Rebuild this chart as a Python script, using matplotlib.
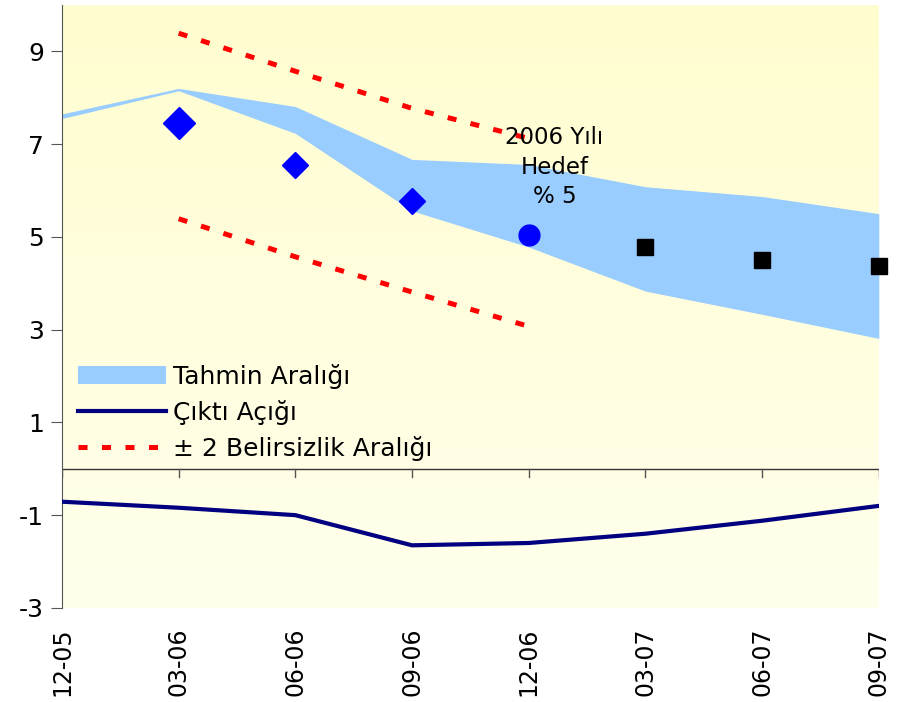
import numpy as np
import matplotlib.pyplot as plt
from matplotlib.colors import LinearSegmentedColormap
from matplotlib.patches import Patch
from matplotlib.lines import Line2D

## Data
quarters = ['12-05', '03-06', '06-06', '09-06', '12-06', '03-07', '06-07', '09-07']
band_upper = [7.65, 8.20, 7.81, 6.67, 6.56, 6.08, 5.87, 5.50]
band_lower = [7.55, 8.15, 7.23, 5.56, 4.78, 3.83, 3.33, 2.81]
realized = [np.nan, 7.45, 6.54, 5.78]          # diamonds, 03-06 .. 09-06
target_2006 = 5.04                              # circle at 12-06
target_2007 = [4.78, 4.50, 4.37]                # squares, 03-07 .. 09-07
unc_upper = [9.39, 8.57, 7.77, 7.12]            # 03-06 .. 12-06
unc_lower = [5.39, 4.57, 3.81, 3.07]
output_gap = [-0.71, -0.84, -1.00, -1.65, -1.60, -1.40, -1.12, -0.80]

x = np.arange(len(quarters))

## Plot
plt.rcParams['font.family'] = ['DejaVu Sans']
plt.rcParams['axes.unicode_minus'] = False
fig = plt.figure(figsize=(9.06, 7.02), dpi=100)
ax = fig.add_axes([0.0684, 0.134, 0.9016, 0.859])
ax.set_xlim(0, 7)
ax.set_ylim(-3, 10)

# background gradient
cmap = LinearSegmentedColormap.from_list('bg', ['#FFFFEC', '#FFFDCF'])
ax.imshow(np.linspace(0, 1, 256).reshape(-1, 1), extent=[0, 7, -3, 10], origin='lower',
          aspect='auto', cmap=cmap, zorder=0)

dash = (0, (1.8, 2.9))
ax.fill_between(x, band_lower, band_upper, color='#99CCFF', lw=0, zorder=1)
ax.plot(x[1:5], unc_upper, color='#FF0000', lw=3.6, ls=dash, zorder=2)
ax.plot(x[1:5], unc_lower, color='#FF0000', lw=3.6, ls=dash, zorder=2)
ax.plot(x[1], realized[1], 'D', color='#0000FF', ms=16, zorder=3)
ax.plot(x[2:4], realized[2:4], 'D', color='#0000FF', ms=13, zorder=3)
ax.plot(x[4], target_2006, 'o', color='#0000FF', ms=15, zorder=3)
ax.plot(x[5:8], target_2007, 's', color='black', ms=11, zorder=3, clip_on=False)
ax.plot(x, output_gap, color='#000080', lw=3, zorder=3, solid_capstyle='round')

ax.text(4.22, 6.5, '2006 Yılı\nHedef\n% 5', ha='center', va='center', fontsize=16.5,
        linespacing=1.35, zorder=4)

# axes
for s in ['top', 'right', 'bottom']:
    ax.spines[s].set_visible(False)
ax.spines['left'].set_color('#555555')
ax.axhline(0, color='#333333', lw=1, zorder=2)
ax.set_yticks([-3, -1, 1, 3, 5, 7, 9])
ax.tick_params(axis='y', direction='out', length=8, color='#555555', labelsize=18, pad=5)
ax.set_xticks(x)
ax.set_xticklabels(quarters, rotation=90, fontsize=17)
ax.tick_params(axis='x', direction='out', length=0, pad=14)
for xi in x:
    ax.plot([xi, xi], [0, -0.18], color='#555555', lw=1, zorder=2)

handles = [Patch(facecolor='#99CCFF', edgecolor='none'),
           Line2D([], [], color='#000080', lw=3),
           Line2D([], [], color='#FF0000', lw=3.6, ls=dash)]
labels = ['Tahmin Aralığı', 'Çıktı Açığı', '± 2 Belirsizlik Aralığı']
ax.legend(handles, labels, loc='upper left', bbox_to_anchor=(0.02, 0.405), frameon=False,
          fontsize=18, handlelength=3.5, handletextpad=0.3, labelspacing=0.45,
          borderaxespad=0, borderpad=0)

fig.savefig('out.png', dpi=100)
